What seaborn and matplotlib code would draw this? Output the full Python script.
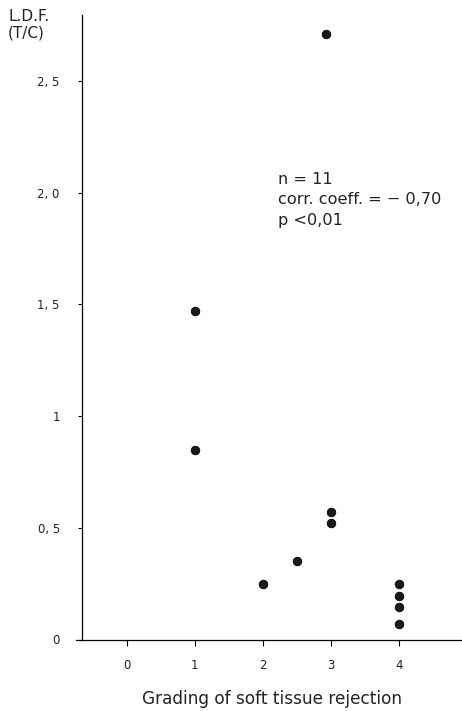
import matplotlib
matplotlib.use("Agg")
import matplotlib.pyplot as plt
import seaborn as sns
import pandas as pd

grading = [2.93, 1, 1, 2, 2.5, 3, 3, 4, 4, 4, 4]
ldf = [2.71, 1.47, 0.85, 0.25, 0.35, 0.57, 0.52, 0.25, 0.195, 0.145, 0.07]
x_ticks = [0, 1, 2, 3, 4]
x_labels = ["0", "1", "2", "3", "4"]
y_ticks = [0, 0.5, 1, 1.5, 2.0, 2.5]
y_labels = ["0", "0, 5", "1", "1, 5", "2, 0", "2, 5"]
stats_text = "n = 11\ncorr. coeff. = − 0,70\np <0,01"

df = pd.DataFrame({"grading": grading, "ldf": ldf})

sns.set_theme(style="white")
plt.rcParams['font.family'] = ['DejaVu Sans']

fig = plt.figure(figsize=(4.62, 7.11), dpi=100)
ax = fig.add_axes([82/462, 1 - 639.5/711, 1 - 82/462, (639.5 - 15)/711])

sns.scatterplot(data=df, x="grading", y="ldf", ax=ax, color="#1a1a1a",
                edgecolor="black", linewidth=0.6, s=38, legend=False, zorder=3)

ax.set_xlim(-0.66, 4.93)
ax.set_ylim(0, 2.795)
ax.set_xticks(x_ticks)
ax.set_xticklabels(x_labels, fontsize=8.5, color="#222222")
ax.set_yticks(y_ticks)
ax.set_yticklabels(y_labels, fontsize=8.5, color="#222222")
ax.tick_params(axis="x", bottom=True, direction="out", length=4, width=0.8,
               color="black", pad=10)
ax.tick_params(axis="y", left=True, direction="out", length=3, width=0.8,
               color="black", pad=13)
ax.set_xlabel("Grading of soft tissue rejection", fontsize=12.2, color="#222222",
              labelpad=13)
ax.set_ylabel("")

for s in ["top", "right"]:
    ax.spines[s].set_visible(False)
for s in ["left", "bottom"]:
    ax.spines[s].set_color("black")
    ax.spines[s].set_linewidth(0.9)

# small extension of the x-axis line to the left of the y-axis
ax.plot([-0.016, 0], [0, 0], transform=ax.transAxes, clip_on=False,
        color="black", linewidth=0.9)

fig.text(8/462, 1 - 9/711, "L.D.F.\n(T/C)", fontsize=11, color="#222222",
         va="top", ha="left", linespacing=1.15)
ax.text(278/462, 1 - 172/711, stats_text, transform=fig.transFigure,
        fontsize=11.6, color="#222222", va="top", ha="left", linespacing=1.45)

fig.savefig("out.png", dpi=100)
